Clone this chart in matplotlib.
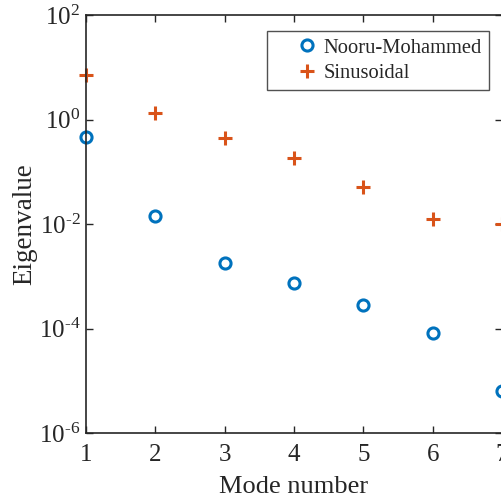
import matplotlib
matplotlib.use("Agg")
import matplotlib.pyplot as plt
import numpy as np

plt.rcParams['font.family'] = ['Liberation Serif', 'DejaVu Serif']
plt.rcParams['mathtext.fontset'] = 'custom'
plt.rcParams['mathtext.rm'] = 'Liberation Serif'
plt.rcParams['mathtext.it'] = 'Liberation Serif:italic'

# eigenvalues
modes = [1, 2, 3, 4, 5, 6, 7]
nooru = [0.46, 0.0142, 0.00179, 7.4e-4, 2.8e-4, 8.2e-5, 6.4e-6]
sinus = [7.1, 1.33, 0.44, 0.183, 0.051, 0.0124, 0.0100]
yticks = [1e-6, 1e-4, 1e-2, 1e0, 1e2]
ytick_labels = [r'$\mathregular{10^{\text{-}6}}$', r'$\mathregular{10^{\text{-}4}}$',
                r'$\mathregular{10^{\text{-}2}}$', r'$\mathregular{10^{0}}$',
                r'$\mathregular{10^{2}}$']

blue = '#0072BD'
orange = '#D95319'
dark = '#262626'

fig = plt.figure(figsize=(5.01, 5.0), dpi=100)
ax = fig.add_axes([86 / 501, 67 / 500, 416 / 501, 418 / 500])

ax.plot(modes, nooru, 'o', mfc='none', mec=blue, mew=2.2, ms=8,
        label='Nooru-Mohammed', clip_on=False)
ax.plot(modes, sinus, '+', color=orange, mew=2.2, ms=9.5,
        label='Sinusoidal', clip_on=False)

ax.set_yscale('log')
ax.set_xlim(1, 7)
ax.set_ylim(1e-6, 1e2)
ax.set_xticks(modes)
ax.set_yticks(yticks)
ax.set_yticklabels(ytick_labels)
ax.yaxis.set_minor_locator(matplotlib.ticker.NullLocator())

ax.tick_params(direction='in', top=True, right=True, length=5, width=1,
               colors=dark, labelsize=18)
ax.tick_params(axis='x', pad=8)
ax.tick_params(axis='y', pad=4)
for s in ax.spines.values():
    s.set_color(dark)
    s.set_linewidth(1.2)

ax.set_xlabel('Mode number', fontsize=19, color=dark, labelpad=7)
ax.set_ylabel('Eigenvalue', fontsize=19.5, color=dark, labelpad=1)

leg = ax.legend(loc='upper left', bbox_to_anchor=(267 / 501, 1 - 31 / 500),
                bbox_transform=fig.transFigure, borderaxespad=0,
                fontsize=14.8, frameon=True, fancybox=False, edgecolor=dark,
                handlelength=3.2, handletextpad=-0.8, borderpad=0.35,
                labelspacing=0.28)
leg.get_frame().set_linewidth(1.0)
for t in leg.get_texts():
    t.set_color(dark)

fig.savefig('out.png', dpi=100)
